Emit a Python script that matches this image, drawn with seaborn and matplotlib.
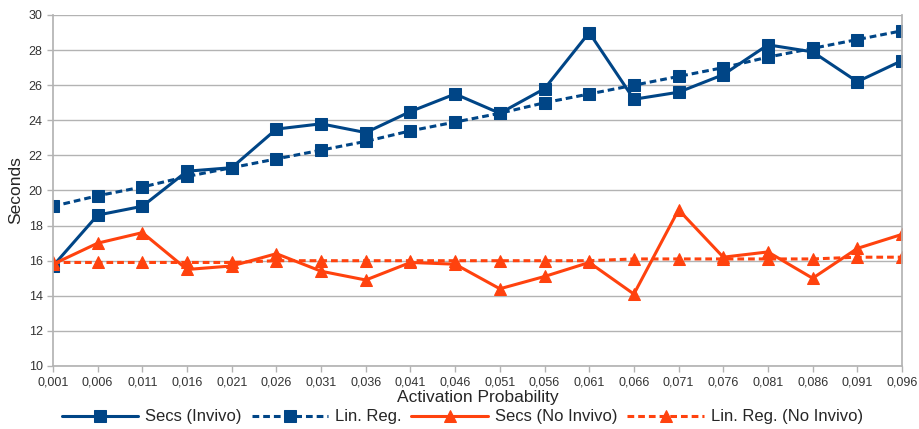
import matplotlib
matplotlib.use("Agg")
import matplotlib.pyplot as plt
import seaborn as sns
import pandas as pd
from matplotlib.ticker import FuncFormatter

prob = [0.001, 0.006, 0.011, 0.016, 0.021, 0.026, 0.031, 0.036, 0.041, 0.046,
        0.051, 0.056, 0.061, 0.066, 0.071, 0.076, 0.081, 0.086, 0.091, 0.096]
secs_invivo = [15.7, 18.6, 19.1, 21.1, 21.3, 23.5, 23.8, 23.3, 24.5, 25.5,
               24.4, 25.8, 29.0, 25.2, 25.6, 26.6, 28.3, 27.9, 26.2, 27.4]
linreg_invivo = [19.1, 19.7, 20.2, 20.8, 21.3, 21.8, 22.3, 22.8, 23.4, 23.9,
                 24.4, 25.0, 25.5, 26.0, 26.5, 27.0, 27.6, 28.1, 28.6, 29.1]
secs_noinvivo = [15.8, 17.0, 17.6, 15.5, 15.7, 16.4, 15.4, 14.9, 15.9, 15.8,
                 14.4, 15.1, 15.9, 14.1, 18.9, 16.2, 16.5, 15.0, 16.7, 17.5]
linreg_noinvivo = [15.9, 15.9, 15.9, 15.9, 15.9, 16.0, 16.0, 16.0, 16.0, 16.0,
                   16.0, 16.0, 16.0, 16.1, 16.1, 16.1, 16.1, 16.1, 16.2, 16.2]

BLUE = "#004586"
ORANGE = "#ff420e"

sns.set_theme(style="white")
plt.rcParams["font.family"] = ["Liberation Sans", "DejaVu Sans"]

fig = plt.figure(figsize=(9.19, 4.29), dpi=100)
ax = fig.add_axes([53 / 919, 1 - 366 / 429, (902 - 53) / 919, (366 - 15) / 429])

series = [
    ("Secs (Invivo)", secs_invivo, BLUE, "s", "-"),
    ("Lin. Reg.", linreg_invivo, BLUE, "s", (0, (2.2, 1.3))),
    ("Secs (No Invivo)", secs_noinvivo, ORANGE, "^", "-"),
    ("Lin. Reg. (No Invivo)", linreg_noinvivo, ORANGE, "^", (0, (2.2, 1.3))),
]
for name, vals, col, mk, ls in series:
    df = pd.DataFrame({"x": prob, "y": vals})
    sns.lineplot(data=df, x="x", y="y", ax=ax, color=col, marker=mk,
                 markersize=8, markeredgecolor=col, linewidth=2.2,
                 linestyle=ls, label=name)

ax.set_xlim(prob[0], prob[-1])
ax.set_ylim(10, 30)
ax.set_xticks(prob)
ax.xaxis.set_major_formatter(FuncFormatter(lambda v, p: f"{v:.3f}".replace(".", ",")))
ax.set_yticks(range(10, 31, 2))
ax.grid(axis="y", color="#b3b3b3", linewidth=1)
ax.grid(axis="x", visible=False)
for s in ["left", "bottom", "right"]:
    ax.spines[s].set_visible(True)
    ax.spines[s].set_color("#b3b3b3")
ax.spines["top"].set_visible(False)
ax.tick_params(axis="both", which="both", direction="out", length=4, width=1,
               color="#b3b3b3", labelsize=9, labelcolor="#333333",
               bottom=True, left=True)
ax.set_xlabel("Activation Probability", fontsize=12.5, labelpad=1)
ax.set_ylabel("Seconds", fontsize=12.5, labelpad=4)

ax.legend(loc="center", bbox_to_anchor=(0.482, -51 / 351), ncol=4, frameon=False,
          fontsize=12, handlelength=4.6, columnspacing=0.6, handletextpad=0.4,
          borderaxespad=0)

fig.savefig("out.png", dpi=100)
